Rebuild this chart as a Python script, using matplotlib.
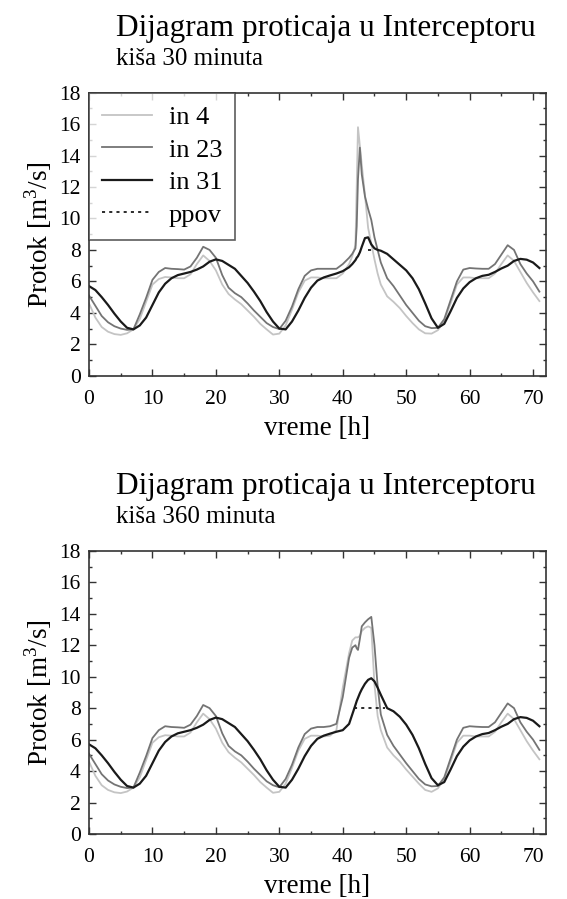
import matplotlib
matplotlib.use("Agg")
import matplotlib.pyplot as plt
from matplotlib.ticker import MultipleLocator

plt.rcParams['font.family'] = ['Liberation Serif', 'DejaVu Serif']
plt.rcParams['mathtext.fontset'] = 'custom'
plt.rcParams['mathtext.rm'] = 'Liberation Serif'

# time axis [h], hourly with extra points around the rain event
t_a = [0, 1, 2, 3, 4, 5, 6, 7, 8, 9, 10, 11, 12, 13, 14, 15, 16, 17, 18, 19,
       20, 21, 22, 23, 24, 25, 26, 27, 28, 29, 30, 31, 32, 33, 34, 35, 36, 37,
       38, 39, 40, 41, 41.5, 42, 42.2, 42.4, 42.7, 43, 43.5, 44, 44.5, 45,
       45.5, 46, 47, 48, 49, 50, 51, 52, 53, 54, 55, 56, 57, 58, 59, 60, 61,
       62, 63, 64, 65, 66, 67, 68, 69, 70, 71]

# kisa 30 minuta
in4_a = [4.6, 3.7, 3.1, 2.8, 2.65, 2.6, 2.7, 2.95, 3.6, 4.7, 5.8, 6.15, 6.28,
         6.25, 6.2, 6.2, 6.45, 7.1, 7.65, 7.3, 6.7, 5.8, 5.2, 4.85, 4.55,
         4.15, 3.75, 3.3, 2.95, 2.62, 2.68, 3.2, 4.2, 5.3, 6.05, 6.25, 6.25,
         6.2, 6.2, 6.2, 6.5, 7.1, 7.6, 8.3, 12.0, 15.8, 14.6, 13.4, 11.5, 9.4,
         8.4, 7.4, 6.5, 5.8, 5.05, 4.7, 4.3, 3.8, 3.35, 2.95, 2.7, 2.68, 2.9,
         3.5, 4.6, 5.8, 6.25, 6.25, 6.2, 6.2, 6.2, 6.5, 7.1, 7.65, 7.3, 6.6,
         5.9, 5.3, 4.75]
in23_a = [5.1, 4.45, 3.8, 3.4, 3.15, 3.0, 2.92, 2.95, 3.9, 4.95, 6.1, 6.6,
          6.85, 6.8, 6.78, 6.75, 6.95, 7.5, 8.2, 8.0, 7.5, 6.4, 5.6, 5.25,
          5.0, 4.6, 4.15, 3.75, 3.35, 3.1, 2.97, 3.5, 4.4, 5.5, 6.35, 6.7, 6.8,
          6.8, 6.8, 6.8, 7.1, 7.5, 7.75, 8.1, 9.5, 12.5, 14.5, 12.8, 11.4,
          10.6, 9.9, 8.8, 8.0, 7.2, 6.2, 5.7, 5.1, 4.5, 4.0, 3.5, 3.15, 3.03,
          3.05, 3.6, 4.8, 6.0, 6.75, 6.85, 6.82, 6.8, 6.8, 7.1, 7.7, 8.3, 8.0,
          7.1, 6.5, 6.0, 5.35]
in31_a = [5.7, 5.45, 5.0, 4.5, 3.95, 3.45, 3.05, 2.95, 3.2, 3.7, 4.5, 5.3,
          5.85, 6.2, 6.4, 6.5, 6.6, 6.75, 6.95, 7.25, 7.4, 7.3, 7.05, 6.8,
          6.35, 5.9, 5.35, 4.75, 4.05, 3.45, 3.0, 2.95, 3.45, 4.15, 4.95, 5.6,
          6.05, 6.25, 6.38, 6.5, 6.65, 6.9, 7.1, 7.35, 7.5, 7.6, 7.85, 8.2,
          8.75, 8.8, 8.35, 8.1, 8.0, 7.95, 7.75, 7.4, 7.05, 6.7, 6.2, 5.5,
          4.6, 3.65, 3.05, 3.3, 4.1, 4.95, 5.55, 5.95, 6.2, 6.35, 6.42, 6.6,
          6.82, 7.0, 7.3, 7.43, 7.38, 7.2, 6.85]
ppov_t_a = [44.0, 44.7]
ppov_a = [8.0, 8.0]

# kisa 360 minuta
in4_b = [4.6, 3.7, 3.1, 2.8, 2.65, 2.6, 2.7, 2.95, 3.6, 4.7, 5.8, 6.15, 6.28,
         6.25, 6.2, 6.2, 6.45, 7.1, 7.65, 7.3, 6.7, 5.8, 5.2, 4.85, 4.55,
         4.15, 3.75, 3.3, 2.95, 2.62, 2.68, 3.2, 4.2, 5.3, 6.05, 6.25, 6.25,
         6.2, 6.25, 6.6, 9.3, 11.5, 12.3, 12.5, 12.5, 12.5, 12.6, 12.9, 13.1,
         13.2, 13.1, 9.5, 7.5, 6.6, 5.5, 5.0, 4.6, 4.1, 3.65, 3.2, 2.8, 2.68,
         2.9, 3.5, 4.6, 5.8, 6.25, 6.25, 6.2, 6.2, 6.2, 6.5, 7.1, 7.65, 7.3,
         6.6, 5.9, 5.3, 4.75]
in23_b = [5.1, 4.45, 3.8, 3.4, 3.15, 3.0, 2.92, 2.95, 3.9, 4.95, 6.1, 6.6,
          6.85, 6.8, 6.78, 6.75, 6.95, 7.5, 8.2, 8.0, 7.5, 6.4, 5.6, 5.25,
          5.0, 4.6, 4.15, 3.75, 3.35, 3.1, 2.97, 3.5, 4.4, 5.5, 6.35, 6.7, 6.8,
          6.8, 6.85, 7.0, 8.7, 11.2, 11.85, 12.0, 11.8, 11.7, 12.4, 13.2,
          13.45, 13.65, 13.8, 12.0, 9.4, 7.6, 6.3, 5.6, 5.05, 4.5, 4.0, 3.5,
          3.15, 3.03, 3.05, 3.6, 4.8, 6.0, 6.75, 6.85, 6.82, 6.8, 6.8, 7.1,
          7.7, 8.3, 8.0, 7.1, 6.5, 6.0, 5.35]
in31_b = [5.7, 5.45, 5.0, 4.5, 3.95, 3.45, 3.05, 2.95, 3.2, 3.7, 4.5, 5.3,
          5.85, 6.2, 6.4, 6.5, 6.6, 6.75, 6.95, 7.25, 7.4, 7.3, 7.05, 6.8,
          6.35, 5.9, 5.35, 4.75, 4.05, 3.45, 3.0, 2.95, 3.45, 4.15, 4.95, 5.6,
          6.05, 6.25, 6.38, 6.5, 6.6, 7.0, 7.6, 8.2, 8.45, 8.65, 8.95, 9.2,
          9.55, 9.8, 9.9, 9.7, 9.3, 8.85, 8.0, 7.8, 7.45, 6.95, 6.3, 5.45,
          4.45, 3.55, 3.1, 3.3, 4.1, 4.95, 5.55, 5.95, 6.2, 6.35, 6.42, 6.6,
          6.82, 7.0, 7.3, 7.43, 7.38, 7.2, 6.85]
ppov_t_b = [41.8, 46.6]
ppov_b = [8.0, 8.0]

titles = ["Dijagram proticaja u Interceptoru", "Dijagram proticaja u Interceptoru"]
subtitles = ["kiša 30 minuta", "kiša 360 minuta"]

fig = plt.figure(figsize=(5.67, 8.99), dpi=100)
ax1 = fig.add_axes([0.157, 0.582, 0.8055, 0.315])
ax2 = fig.add_axes([0.157, 0.0723, 0.8055, 0.315])

panels = [
    (ax1, in4_a, in23_a, in31_a, ppov_t_a, ppov_a, 0.9600, 0.9277),
    (ax2, in4_b, in23_b, in31_b, ppov_t_b, ppov_b, 0.4505, 0.4182),
]

for i, (ax, s4, s23, s31, pt, pv, ty, sy) in enumerate(panels):
    ax.plot(t_a, s4, color='#c4c4c4', lw=1.3, label='in 4')
    ax.plot(t_a, s23, color='#747474', lw=1.3, label='in 23')
    ax.plot(t_a, s31, color='#1a1a1a', lw=1.6, label='in 31')
    ax.plot(pt, pv, color='#1a1a1a', lw=1.3, dashes=(1.7, 2.3), label='ppov')

    ax.set_xlim(0, 72)
    ax.set_ylim(0, 18)
    ax.xaxis.set_major_locator(MultipleLocator(10))
    ax.xaxis.set_minor_locator(MultipleLocator(5))
    ax.yaxis.set_major_locator(MultipleLocator(2))
    ax.yaxis.set_minor_locator(MultipleLocator(1))
    ax.tick_params(which='both', direction='in', top=True, right=True,
                   width=1.0, labelsize=15.5, pad=6, color='#333333')
    ax.tick_params(axis='x', which='both', pad=10)
    ax.tick_params(which='major', length=5)
    ax.tick_params(which='minor', length=2.5)
    for sp in ax.spines.values():
        sp.set_linewidth(1.2)
        sp.set_color('#333333')
    ax.set_xlabel('vreme [h]', fontsize=19.5, labelpad=5)
    ax.set_ylabel(r'Protok [m$^3$/s]', fontsize=19.5, labelpad=4)

    fig.text(0.2046, ty, titles[i], fontsize=22.5, va='baseline', ha='left')
    fig.text(0.2046, sy, subtitles[i], fontsize=18, va='baseline', ha='left')

leg = ax1.legend(loc='upper left', fontsize=19, frameon=True, fancybox=False,
                 borderaxespad=0, handlelength=1.9, handletextpad=0.62,
                 labelspacing=0.34, borderpad=0.5)
leg.get_frame().set_edgecolor('#333333')
leg.get_frame().set_linewidth(1.2)

fig.savefig('out.png', dpi=100)
